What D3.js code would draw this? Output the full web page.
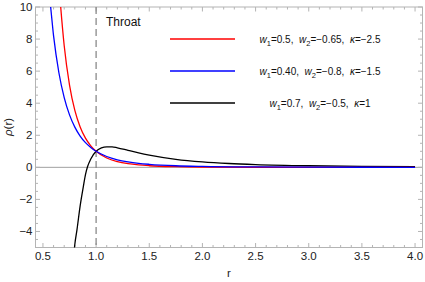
<!DOCTYPE html>
<html><head><meta charset="utf-8">
<script src="https://cdn.jsdelivr.net/npm/d3@7"></script>
<style>
body{margin:0;background:#fff;}
svg{display:block;font-family:"Liberation Sans",Arial,sans-serif;}
</style></head>
<body><svg id="c" width="425" height="282"></svg>
<script>
// Data
const rRed   = [0.655,0.667,0.7,0.75,0.8,0.85,0.9,0.95,1.0,1.1,1.2,1.3,1.4,1.5,1.75,2.0,2.5,3.0,3.5,4.0];
const rhoRed = [11,10,7.58,5.13,3.55,2.52,1.82,1.34,1.0,0.58,0.355,0.225,0.148,0.10,0.042,0.0195,0.0055,0.002,0.0008,0.0004];
const rBlue   = [0.555,0.566,0.6,0.65,0.7,0.75,0.8,0.85,0.9,0.95,1.0,1.1,1.2,1.3,1.4,1.5,1.75,2.0,2.5,3.0,3.5,4.0];
const rhoBlue = [11,10.4,8.2,5.9,4.35,3.27,2.51,1.95,1.54,1.24,1.0,0.675,0.47,0.34,0.25,0.19,0.10,0.058,0.023,0.011,0.0058,0.0033];
const rBlack   = [0.785,0.79,0.8,0.82,0.85,0.88,0.9,0.92,0.95,1.0,1.05,1.1,1.15,1.2,1.3,1.4,1.5,1.75,2.0,2.25,2.5,3.0,3.5,4.0];
const rhoBlack = [-5.9,-5.5,-4.8,-3.9,-2.4,-1.2,-0.45,0.05,0.52,1.0,1.21,1.28,1.28,1.22,1.06,0.9,0.76,0.5,0.34,0.24,0.175,0.1,0.063,0.042];
const seriesLabels = [
  {w1:"0.5", w2:"\u22120.65", k:"\u22122.5"},
  {w1:"0.40", w2:"\u22120.8", k:"\u22121.5"},
  {w1:"0.7", w2:"\u22120.5", k:"1"}
];
const seriesColors = ["#ff0000","#0000ff","#000000"];
const xTicks = [0.5,1.0,1.5,2.0,2.5,3.0,3.5,4.0];
const yTicks = [-4,-2,0,2,4,6,8,10];
const throatR = 1.0;

const svg = d3.select("#c");
const L=35.5, R=422.5, T=7, B=247.5;
const x = d3.scaleLinear().domain([0.43,4.07]).range([L,R]);
const y = d3.scaleLinear().domain([-5,10]).range([B,T]);

svg.append("defs").append("clipPath").attr("id","clip")
  .append("rect").attr("x",L).attr("y",T).attr("width",R-L).attr("height",B-T);

// zero line
svg.append("line").attr("x1",L).attr("x2",R).attr("y1",y(0)).attr("y2",y(0))
  .attr("stroke","#a0a0a0").attr("stroke-width",1);

// frame
svg.append("rect").attr("x",L).attr("y",T).attr("width",R-L).attr("height",B-T)
  .attr("fill","none").attr("stroke","#b4b4b4").attr("stroke-width",1);

const tickCol="#b4b4b4";
const g = svg.append("g");
const xMinor = d3.range(5,41).map(i=>i/10);
xMinor.forEach(v=>{
  const major = Math.abs(v*2-Math.round(v*2))<1e-6;
  const len = major?4.5:2.5;
  g.append("line").attr("x1",x(v)).attr("x2",x(v)).attr("y1",B).attr("y2",B-len).attr("stroke",tickCol);
  g.append("line").attr("x1",x(v)).attr("x2",x(v)).attr("y1",T).attr("y2",T+len).attr("stroke",tickCol);
});
const yMinor = d3.range(-10,21).map(i=>i/2);
yMinor.forEach(v=>{
  const major = Math.abs(v/2-Math.round(v/2))<1e-6;
  const len = major?4.5:2.5;
  g.append("line").attr("y1",y(v)).attr("y2",y(v)).attr("x1",L).attr("x2",L+len).attr("stroke",tickCol);
  g.append("line").attr("y1",y(v)).attr("y2",y(v)).attr("x1",R).attr("x2",R-len).attr("stroke",tickCol);
});
xTicks.forEach(v=>{
  g.append("text").attr("x",x(v)).attr("y",B+12.5).attr("text-anchor","middle")
   .attr("font-size",11.5).attr("fill","#222").text(v.toFixed(1));
});
yTicks.forEach(v=>{
  g.append("text").attr("x",L-3).attr("y",y(v)+4).attr("text-anchor","end")
   .attr("font-size",11.5).attr("fill","#222").text(v<0?"\u2212"+Math.abs(v):String(v));
});
svg.append("text").attr("x",229).attr("y",277).attr("text-anchor","middle")
  .attr("font-size",11.5).attr("fill","#222").text("r");
svg.append("text").attr("transform","translate(12,127) rotate(-90)").attr("text-anchor","middle")
  .attr("font-size",11.5).attr("fill","#222")
  .call(t=>{t.append("tspan").attr("font-style","italic").text("\u03c1");t.append("tspan").text("(r)");});

svg.append("line").attr("x1",x(throatR)).attr("x2",x(throatR)).attr("y1",T).attr("y2",B)
  .attr("stroke","#808080").attr("stroke-width",1.2).attr("stroke-dasharray","7,4");
svg.append("text").attr("x",106).attr("y",26).attr("font-size",12).attr("fill","#111").text("Throat");

const line = d3.line().x(d=>x(d[0])).y(d=>y(d[1])).curve(d3.curveMonotoneX);
const plot = svg.append("g").attr("clip-path","url(#clip)");
const series = [
  d3.zip(rRed,rhoRed),
  d3.zip(rBlue,rhoBlue),
  d3.zip(rBlack,rhoBlack)
];
[2,0,1].forEach(i=>{
  plot.append("path").attr("d",line(series[i])).attr("fill","none")
    .attr("stroke",seriesColors[i]).attr("stroke-width",1.3);
});

const legY=[39,71,103];
seriesLabels.forEach((s,i)=>{
  svg.append("line").attr("x1",170).attr("x2",235).attr("y1",legY[i]).attr("y2",legY[i])
    .attr("stroke",seriesColors[i]).attr("stroke-width",1.3);
  const t = svg.append("text").attr("x",320).attr("y",legY[i]+4).attr("text-anchor","middle")
    .attr("font-size",10).attr("fill","#111");
  t.attr("xml:space","preserve").style("white-space","pre");
  t.append("tspan").attr("font-style","italic").text("w");
  t.append("tspan").attr("font-size",7.5).attr("dy",2.5).text("1");
  t.append("tspan").attr("dy",-2.5).text("="+s.w1+",  ");
  t.append("tspan").attr("font-style","italic").text("w");
  t.append("tspan").attr("font-size",7.5).attr("dy",2.5).text("2");
  t.append("tspan").attr("dy",-2.5).text("="+s.w2+",  ");
  t.append("tspan").attr("font-style","italic").text("\u03ba");
  t.append("tspan").text("="+s.k);
});
</script></body></html>
